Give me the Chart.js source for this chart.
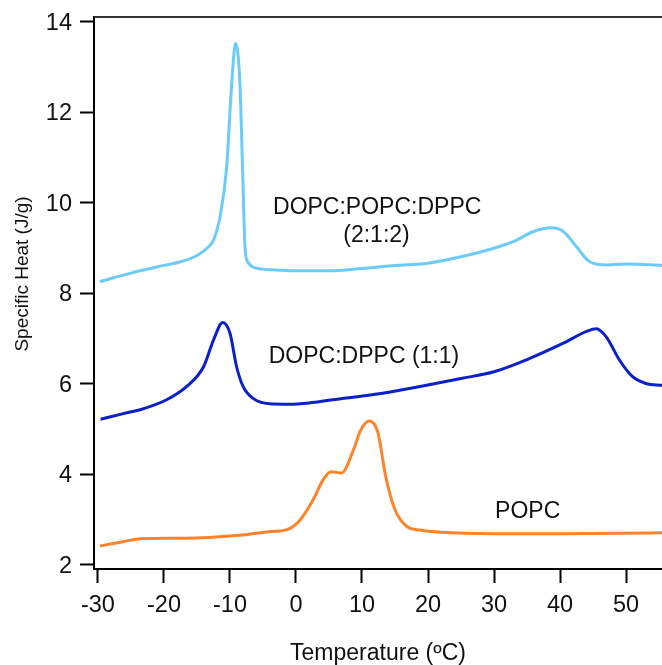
<!DOCTYPE html>
<html>
<head>
<meta charset="utf-8">
<script src="https://cdn.jsdelivr.net/npm/chart.js@4/dist/chart.umd.min.js"></script>
<style>
    html, body { margin: 0; padding: 0; background: #fff; }
    #wrap { width: 662px; height: 665px; }
</style>
</head>
<body>
<div id="wrap"><canvas id="dscChart"></canvas></div>
<script>
// Data
const mixTemps = [-29.7, -25, -20, -17.5, -15, -13.5, -12.5, -11.5, -10.5, -9.8, -9.15, -8.5, -8.1, -7.7, -7.2, -6, -3, 0, 5, 10, 15, 20, 25, 30, 33, 36, 38.7, 40.5, 42.5, 44.5, 47, 50, 55.5];
const mixHeat = [8.26, 8.45, 8.62, 8.70, 8.84, 9.0, 9.18, 9.7, 10.8, 12.5, 13.53, 12.65, 10.8, 8.96, 8.67, 8.56, 8.52, 8.5, 8.5, 8.55, 8.62, 8.67, 8.81, 9.0, 9.15, 9.37, 9.45, 9.37, 9.03, 8.70, 8.63, 8.65, 8.62];

const binTemps = [-29.6, -26, -23.6, -19.6, -16.6, -14, -12.5, -11.1, -10, -9, -8, -6.5, -4, -1, 2, 5.5, 12, 19, 25, 30, 35.5, 40.5, 44, 45.5, 47, 49, 51, 53, 55.5];
const binHeat = [5.22, 5.35, 5.43, 5.65, 5.94, 6.38, 6.97, 7.36, 7.12, 6.38, 5.94, 5.68, 5.56, 5.55, 5.58, 5.65, 5.77, 5.95, 6.12, 6.27, 6.57, 6.90, 7.16, 7.22, 7.04, 6.53, 6.16, 6.01, 5.97];

const popcTemps = [-29.7, -26, -23.5, -17, -9, -4.4, -1.4, 0.6, 2.6, 4.1, 5.3, 6.9, 8.7, 9.8, 11.1, 12.4, 13.6, 15, 16.8, 18.8, 22, 30, 40, 50, 55.5];
const popcHeat = [2.42, 2.52, 2.58, 2.59, 2.65, 2.73, 2.78, 2.99, 3.44, 3.88, 4.06, 4.03, 4.54, 4.98, 5.18, 4.93, 3.95, 3.22, 2.85, 2.77, 2.72, 2.69, 2.69, 2.70, 2.71];

// Axis ticks
const xTickValues = [-30, -20, -10, 0, 10, 20, 30, 40, 50];
const yTickValues = [2, 4, 6, 8, 10, 12, 14];

// Curve labels (placed in data units)
const curveLabels = [
    { text: 'DOPC:POPC:DPPC', x: 12.3, y: 9.92 },
    { text: '(2:1:2)', x: 12.2, y: 9.31 },
    { text: 'DOPC:DPPC (1:1)', x: 10.3, y: 6.62 },
    { text: 'POPC', x: 35.1, y: 3.2 }
];

const FONT = "'Liberation Sans', Arial, sans-serif";

function toPoints(xs, ys) {
    return xs.map((x, i) => ({ x: x, y: ys[i] }));
}

// Top frame line, curve labels and axis titles
const decorPlugin = {
    id: 'decor',
    afterDraw(chart) {
        const { ctx, chartArea, scales } = chart;
        ctx.save();

        ctx.strokeStyle = '#333';
        ctx.lineWidth = 2;
        ctx.beginPath();
        ctx.moveTo(chartArea.left, chartArea.top);
        ctx.lineTo(chartArea.right, chartArea.top);
        ctx.stroke();

        ctx.fillStyle = '#111';
        ctx.font = `23px ${FONT}`;
        ctx.textAlign = 'center';
        ctx.textBaseline = 'middle';
        curveLabels.forEach(lbl => {
            ctx.fillText(lbl.text, scales.x.getPixelForValue(lbl.x), scales.y.getPixelForValue(lbl.y) + 1);
        });

        ctx.font = `23px ${FONT}`;
        ctx.fillText('Temperature (ºC)', (chartArea.left + chartArea.right) / 2, 654);

        ctx.translate(23, 274);
        ctx.rotate(-Math.PI / 2);
        ctx.font = `19px ${FONT}`;
        ctx.fillText('Specific Heat (J/g)', 0, 0);
        ctx.restore();
    }
};

const axisStyle = {
    border: { display: true, color: '#000', width: 2 },
    grid: {
        display: true,
        drawOnChartArea: false,
        drawTicks: true,
        tickLength: 14,
        tickWidth: 2,
        tickColor: '#000'
    },
    ticks: {
        color: '#111',
        padding: 8,
        font: { family: FONT, size: 23.5 }
    }
};

new Chart(document.getElementById('dscChart').getContext('2d'), {
    type: 'line',
    data: {
        datasets: [
            { label: 'DOPC:POPC:DPPC (2:1:2)', data: toPoints(mixTemps, mixHeat), borderColor: '#6ccbfa' },
            { label: 'DOPC:DPPC (1:1)', data: toPoints(binTemps, binHeat), borderColor: '#0b20c8' },
            { label: 'POPC', data: toPoints(popcTemps, popcHeat), borderColor: '#ff8429' }
        ].map(ds => Object.assign(ds, {
            borderWidth: 3,
            pointRadius: 0,
            fill: false,
            cubicInterpolationMode: 'monotone'
        }))
    },
    options: {
        responsive: true,
        maintainAspectRatio: false,
        animation: false,
        devicePixelRatio: 1,
        layout: { padding: { top: 17, left: 0, right: 0, bottom: 0 } },
        plugins: {
            legend: { display: false },
            tooltip: { enabled: false }
        },
        scales: {
            x: Object.assign({}, axisStyle, {
                type: 'linear',
                min: -30.6,
                max: 55.45,
                afterBuildTicks: scale => { scale.ticks = xTickValues.map(v => ({ value: v })); },
                afterFit: scale => {
                    scale.height = 96;
                    scale.paddingLeft = 0;
                    scale.paddingRight = 0;
                }
            }),
            y: Object.assign({}, axisStyle, {
                type: 'linear',
                min: 1.91,
                max: 14.11,
                ticks: Object.assign({}, axisStyle.ticks, { labelOffset: 1.5 }),
                afterBuildTicks: scale => { scale.ticks = yTickValues.map(v => ({ value: v })); },
                afterFit: scale => {
                    scale.width = 94;
                    scale.paddingTop = 0;
                    scale.paddingBottom = 0;
                }
            })
        }
    },
    plugins: [decorPlugin]
});
</script>
</body>
</html>
